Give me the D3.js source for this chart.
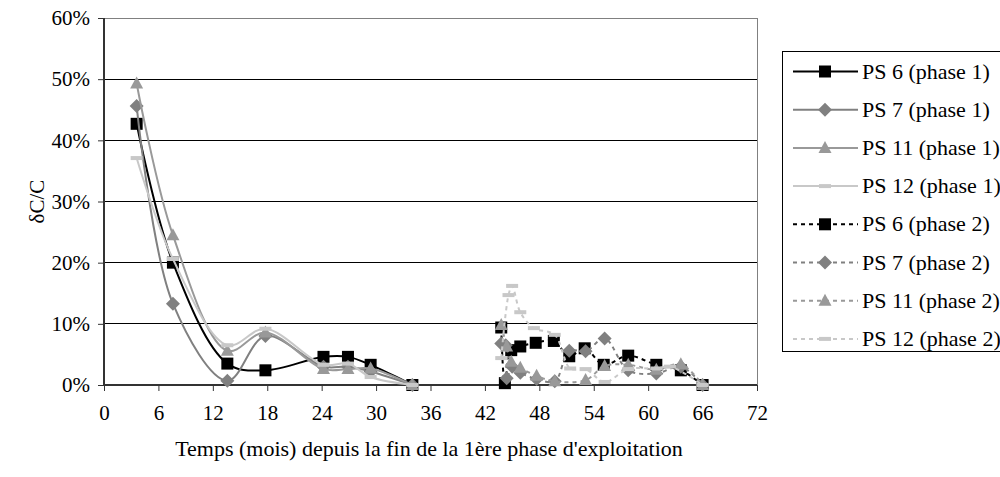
<!DOCTYPE html>
<html>
<head>
<meta charset="utf-8">
<script src="https://cdn.jsdelivr.net/npm/d3@7"></script>
<style>
  body { margin: 0; background: #fff; overflow: hidden; }
  svg text { font-family: "Liberation Serif", "Times New Roman", serif; }
</style>
</head>
<body>
<svg id="chart" width="1000" height="477"></svg>
<script>
// ---- Data ----
const xTicks = [0, 6, 12, 18, 24, 30, 36, 42, 48, 54, 60, 66, 72];
const yTicks = [0, 10, 20, 30, 40, 50, 60];

const x1 = [3.6, 7.6, 13.6, 17.8, 24.2, 26.9, 29.4, 34];
const ps6p1  = [42.7, 20.0, 3.5, 2.4, 4.6, 4.6, 3.3, 0];
const ps7p1  = [45.6, 13.3, 0.7, 8.0, 3.0, 3.0, 2.2, 0];
const ps11p1 = [49.3, 24.5, 5.6, 8.6, 2.6, 2.6, 2.7, 0];
const ps12p1 = [37.1, 20.6, 6.5, 9.2, 3.3, 3.5, 1.3, 0];

const ps6p2x  = [43.8, 44.2, 44.9, 45.9, 47.6, 49.6, 51.3, 53.0, 55.1, 57.8, 60.9, 63.6, 66];
const ps6p2   = [9.4, 0.3, 5.7, 6.3, 6.9, 7.2, 4.7, 6.0, 3.3, 4.8, 3.3, 2.4, 0];
const ps7p2x  = [43.8, 44.3, 44.4, 45.0, 45.9, 47.7, 49.7, 51.3, 53.1, 55.2, 57.8, 60.9, 63.6, 66];
const ps7p2   = [6.8, 6.5, 1.1, 3.0, 2.0, 1.0, 0.6, 5.6, 5.5, 7.6, 2.4, 1.9, 3.0, 0];
const ps11p2x = [43.8, 44.4, 44.9, 45.9, 47.7, 49.7, 53.1, 55.2, 57.8, 60.9, 63.6, 66];
const ps11p2  = [9.8, 6.3, 3.8, 2.8, 1.5, 0.6, 0.8, 3.1, 3.3, 2.5, 3.4, 0];
const ps12p2x = [43.8, 44.6, 45.0, 45.9, 47.4, 49.7, 51.4, 53.1, 55.2, 57.8, 60.9, 62.4, 66];
const ps12p2  = [4.4, 14.7, 16.2, 11.9, 9.3, 8.2, 2.7, 2.6, 0.5, 2.6, 2.7, 3.0, 0];

const seriesNames = ["PS 6 (phase 1)", "PS 7 (phase 1)", "PS 11 (phase 1)", "PS 12 (phase 1)",
                     "PS 6 (phase 2)", "PS 7 (phase 2)", "PS 11 (phase 2)", "PS 12 (phase 2)"];

// ---- Build series ----
const colors = { ps6: "#000000", ps7: "#808080", ps11: "#999999", ps12: "#c8c8c8" };
const series = [
  { name: seriesNames[0], xs: x1, ys: ps6p1, color: colors.ps6, marker: "square", dash: null },
  { name: seriesNames[1], xs: x1, ys: ps7p1, color: colors.ps7, marker: "diamond", dash: null },
  { name: seriesNames[2], xs: x1, ys: ps11p1, color: colors.ps11, marker: "triangle", dash: null },
  { name: seriesNames[3], xs: x1, ys: ps12p1, color: colors.ps12, marker: "dash", dash: null },
  { name: seriesNames[4], xs: ps6p2x, ys: ps6p2, color: colors.ps6, marker: "square", dash: "4,4" },
  { name: seriesNames[5], xs: ps7p2x, ys: ps7p2, color: colors.ps7, marker: "diamond", dash: "4,4" },
  { name: seriesNames[6], xs: ps11p2x, ys: ps11p2, color: colors.ps11, marker: "triangle", dash: "4,4" },
  { name: seriesNames[7], xs: ps12p2x, ys: ps12p2, color: colors.ps12, marker: "dash", dash: "4,4" }
];

const FS = 21, FL = 22;
const svg = d3.select("#chart");
const L = 104, R = 757, T = 18, B = 385;
const x = d3.scaleLinear().domain([0, 72]).range([L, R]);
const y = d3.scaleLinear().domain([0, 60]).range([B, T]);

// gridlines
svg.append("g").selectAll("line").data(yTicks.filter(d => d > 0)).join("line")
  .attr("x1", L).attr("x2", R)
  .attr("y1", d => y(d)).attr("y2", d => y(d))
  .attr("stroke", d => d === 60 ? "#808080" : "#000").attr("stroke-width", 1)
  .attr("shape-rendering", "crispEdges");
// right border
svg.append("line").attr("x1", R).attr("x2", R).attr("y1", T).attr("y2", B)
  .attr("stroke", "#808080").attr("shape-rendering", "crispEdges");

// axes
const xAxis = d3.axisBottom(x).tickValues(xTicks).tickSize(6).tickPadding(14).tickFormat(d3.format("d"));
const gx = svg.append("g").attr("transform", `translate(0,${B})`).call(xAxis);
const yAxis = d3.axisLeft(y).tickValues(yTicks).tickSize(6).tickPadding(8).tickFormat(d => d + "%");
const gy = svg.append("g").attr("transform", `translate(${L},0)`).call(yAxis);
[gx, gy].forEach(g => {
  g.select(".domain").attr("stroke", "#333").attr("stroke-width", 2);
  g.selectAll(".tick line").attr("stroke", "#333");
  g.selectAll("text").attr("font-size", FS).attr("fill", "#000")
    .attr("font-family", "Liberation Serif, Times New Roman, serif");
});
gx.select(".domain").attr("d", `M${L},0H${R}`);
gy.select(".domain").attr("d", `M0,${B}V${T}`);

// axis titles
svg.append("text").attr("x", 429).attr("y", 456).attr("text-anchor", "middle")
  .attr("font-size", FL).text("Temps (mois) depuis la fin de la 1ère phase d'exploitation");
svg.append("text").attr("transform", `translate(44,${(T + B) / 2}) rotate(-90)`)
  .attr("text-anchor", "middle").attr("font-size", FS).text("δC/C");

// markers
function drawMarker(g, type, cx, cy, color) {
  if (type === "square") {
    g.append("rect").attr("x", cx - 6).attr("y", cy - 6).attr("width", 12).attr("height", 12).attr("fill", color);
  } else if (type === "diamond") {
    g.append("path").attr("d", `M${cx},${cy - 7}L${cx + 7},${cy}L${cx},${cy + 7}L${cx - 7},${cy}Z`).attr("fill", color);
  } else if (type === "triangle") {
    g.append("path").attr("d", `M${cx},${cy - 7}L${cx + 6.5},${cy + 5}L${cx - 6.5},${cy + 5}Z`).attr("fill", color);
  } else if (type === "dash") {
    g.append("rect").attr("x", cx - 6).attr("y", cy - 2).attr("width", 12).attr("height", 4).attr("fill", color);
  }
}

const line = d3.line().x(d => x(d[0])).y(d => y(d[1])).curve(d3.curveCatmullRom.alpha(0.5));

series.forEach(s => {
  const g = svg.append("g");
  const pts = s.xs.map((v, i) => [v, s.ys[i]]);
  g.append("path").datum(pts).attr("d", line).attr("fill", "none")
    .attr("stroke", s.color).attr("stroke-width", 2)
    .attr("stroke-dasharray", s.dash);
  pts.forEach(p => drawMarker(g, s.marker, x(p[0]), y(p[1]), s.color));
});

// legend
const lg = svg.append("g");
lg.append("rect").attr("x", 782.5).attr("y", 51.5).attr("width", 230).attr("height", 300)
  .attr("fill", "#fff").attr("stroke", "#000").attr("stroke-width", 1);
series.forEach((s, i) => {
  const yy = 71.5 + i * 38.2;
  const g = lg.append("g");
  g.append("line").attr("x1", 793).attr("x2", 858).attr("y1", yy).attr("y2", yy)
    .attr("stroke", s.color).attr("stroke-width", 2).attr("stroke-dasharray", s.dash);
  drawMarker(g, s.marker, 825, yy, s.color);
  g.append("text").attr("x", 862).attr("y", yy + 7).attr("font-size", FL).text(s.name);
});
</script>
</body>
</html>
